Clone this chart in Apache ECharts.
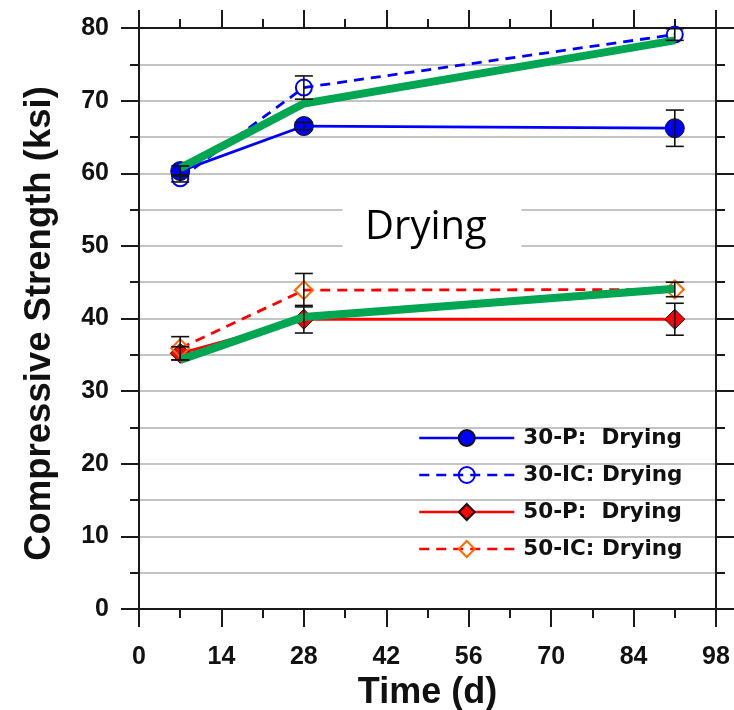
<!DOCTYPE html>
<html>
<head>
<meta charset="utf-8">
<script src="https://cdn.jsdelivr.net/npm/echarts@6/dist/echarts.min.js"></script>
<style>
html,body{margin:0;padding:0;background:#fff;}
#c{width:734px;height:710px;}
</style>
</head>
<body>
<div id="c"></div>
<script>
// ---- data ----
const days = [7, 28, 91];
const xTicks = [0, 14, 28, 42, 56, 70, 84, 98];
const yTicks = [0, 10, 20, 30, 40, 50, 60, 70, 80];

const p30 = [60.3, 66.5, 66.2];
const p30Err = [0.7, 0.5, 2.5];
const ic30 = [59.3, 71.8, 79.1];
const ic30Err = [0.5, 1.6, 0.8];
const p50 = [35.2, 39.9, 39.9];
const p50Err = [0.9, 1.9, 2.2];
const ic50 = [35.9, 43.9, 44.0];
const ic50Err = [1.6, 2.3, 1.0];
const trendHigh = [60.7, 69.6, 78.3];
const trendLow = [34.3, 40.2, 44.1];

const seriesNames = ['30-P:  Drying', '30-IC: Drying', '50-P:  Drying', '50-IC: Drying'];
const annotation = { text: 'Drying', day: 49.75, value: 52.5 };

// ---- helpers ----
const pts = (vals) => days.map((d, i) => [d, vals[i]]);
const errPts = (vals, errs) => days.map((d, i) => [d, vals[i] - errs[i], vals[i] + errs[i]]);

const AX = '#1a1a1a';
const GRID = '#c4c4c4';
const tickFont = { fontFamily: 'Liberation Sans, Arial, sans-serif', fontWeight: 'bold', fontSize: 25, color: '#111' };

function errorBar(params, api) {
  const x = api.value(0);
  const lo = api.coord([x, api.value(1)]);
  const hi = api.coord([x, api.value(2)]);
  const hw = 9;
  const st = { stroke: '#111', lineWidth: 1.6 };
  return {
    type: 'group',
    children: [
      { type: 'line', shape: { x1: lo[0], y1: lo[1], x2: hi[0], y2: hi[1] }, style: st },
      { type: 'line', shape: { x1: lo[0] - hw, y1: lo[1], x2: lo[0] + hw, y2: lo[1] }, style: st },
      { type: 'line', shape: { x1: hi[0] - hw, y1: hi[1], x2: hi[0] + hw, y2: hi[1] }, style: st }
    ]
  };
}
function errSeries(vals, errs) {
  return {
    type: 'custom', renderItem: errorBar, data: errPts(vals, errs),
    xAxisIndex: 0, yAxisIndex: 0, z: 6, silent: true,
    encode: { x: 0, y: [1, 2] }
  };
}

const chart = echarts.init(document.getElementById('c'), null, { renderer: 'canvas' });

const axisCommon = {
  axisLine: { show: true, onZero: false, lineStyle: { color: AX, width: 2 } },
  axisTick: { show: true, inside: false, length: 18, lineStyle: { color: AX, width: 2 } },
  minorTick: { show: true, splitNumber: 2, length: 9, lineStyle: { color: AX, width: 2 } }
};

const option = {
  backgroundColor: '#fff',
  animation: false,
  grid: { left: 139, right: 18, top: 28, bottom: 101, containLabel: false, outerBoundsMode: 'none' },
  xAxis: [
    Object.assign({
      type: 'value', position: 'bottom', min: xTicks[0], max: xTicks[xTicks.length - 1], interval: 14,
      splitLine: { show: false },
      axisLabel: Object.assign({ margin: 36 }, tickFont),
      name: 'Time (d)', nameLocation: 'middle', nameGap: 56,
      nameTextStyle: { fontFamily: 'Liberation Sans, Arial, sans-serif', fontWeight: 'bold', fontSize: 36, color: '#111' }
    }, axisCommon),
    Object.assign({
      type: 'value', position: 'top', min: xTicks[0], max: xTicks[xTicks.length - 1], interval: 14,
      splitLine: { show: false }, axisLabel: { show: false }
    }, axisCommon)
  ],
  yAxis: [
    Object.assign({
      type: 'value', position: 'left', min: yTicks[0], max: yTicks[yTicks.length - 1], interval: 10,
      splitLine: { show: true, lineStyle: { color: GRID, width: 2 } },
      minorSplitLine: { show: true, lineStyle: { color: GRID, width: 2 } },
      axisLabel: Object.assign({ margin: 30 }, tickFont),
      name: 'Compressive Strength (ksi)', nameLocation: 'middle', nameGap: 81,
      nameTextStyle: { fontFamily: 'Liberation Sans, Arial, sans-serif', fontWeight: 'bold', fontSize: 36.5, color: '#111', padding: [0, 10, 0, 0] }
    }, axisCommon),
    Object.assign({
      type: 'value', position: 'right', min: yTicks[0], max: yTicks[yTicks.length - 1], interval: 10,
      splitLine: { show: false }, axisLabel: { show: false }
    }, axisCommon)
  ],
  legend: {
    data: seriesNames,
    orient: 'vertical', left: 418, top: 427, padding: 0,
    itemWidth: 95, itemHeight: 20, itemGap: 15,
    lineStyle: { width: 2.5 },
    textStyle: { fontFamily: 'DejaVu Sans, Liberation Sans, sans-serif', fontWeight: 'bold', fontSize: 21.5, color: '#111', lineHeight: 20, padding: [0, 0, 0, 4] },
    selectedMode: false
  },
  series: [
    {
      name: 'annotation', type: 'scatter', data: [[annotation.day, annotation.value]],
      symbol: 'rect', symbolSize: [179, 62], itemStyle: { color: '#fff', opacity: 1 }, z: 1, silent: true,
      label: { show: true, position: 'inside', formatter: annotation.text, offset: [-6, 0],
        fontFamily: 'Open Sans, Lato, sans-serif', fontSize: 40, color: '#000', opacity: 1 }
    },
    {
      name: seriesNames[0], type: 'line', data: pts(p30), z: 3,
      lineStyle: { color: '#0000ff', width: 2.8, type: 'solid' },
      symbol: 'circle', symbolSize: 19,
      itemStyle: { color: '#0000ff', borderColor: '#111', borderWidth: 1 }
    },
    {
      name: seriesNames[1], type: 'line', data: pts(ic30), z: 3,
      lineStyle: { color: '#0000ff', width: 2.8, type: [10, 7] },
      symbol: 'circle', symbolSize: 16,
      itemStyle: { color: 'rgba(255,255,255,0)', borderColor: '#0000ff', borderWidth: 2 }
    },
    {
      name: seriesNames[2], type: 'line', data: pts(p50), z: 3,
      lineStyle: { color: '#ff0000', width: 2.8, type: 'solid' },
      symbol: 'diamond', symbolSize: 20,
      itemStyle: { color: '#ff0000', borderColor: '#111', borderWidth: 1 }
    },
    {
      name: seriesNames[3], type: 'line', data: pts(ic50), z: 3,
      lineStyle: { color: '#ff0000', width: 2.8, type: [10, 7] },
      symbol: 'diamond', symbolSize: 18,
      itemStyle: { color: 'rgba(255,255,255,0)', borderColor: '#ff6a00', borderWidth: 2 }
    },
    {
      name: 'trendHigh', type: 'line', data: pts(trendHigh), z: 4, symbol: 'none',
      lineStyle: { color: '#00a651', width: 8, cap: 'butt', join: 'miter' }, silent: true
    },
    {
      name: 'trendLow', type: 'line', data: pts(trendLow), z: 4, symbol: 'none',
      lineStyle: { color: '#00a651', width: 8, cap: 'butt', join: 'miter' }, silent: true
    },
    errSeries(p30, p30Err),
    errSeries(ic30, ic30Err),
    errSeries(p50, p50Err),
    errSeries(ic50, ic50Err)
  ]
};
chart.setOption(option);
</script>
</body>
</html>
